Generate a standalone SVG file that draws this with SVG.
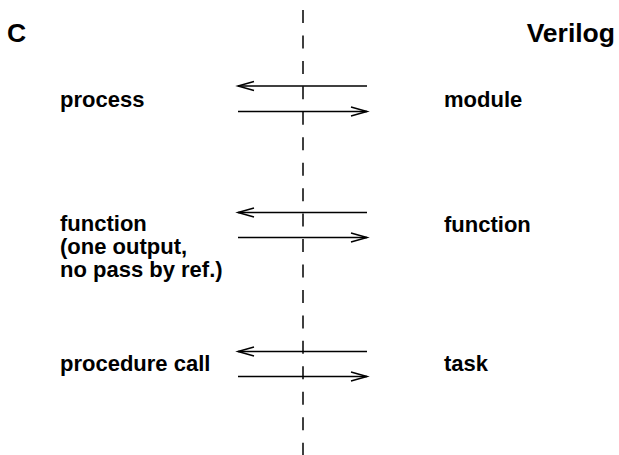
<svg xmlns="http://www.w3.org/2000/svg" width="619" height="455" viewBox="0 0 619 455">
<style>
text{font-family:"Liberation Sans",Arial,sans-serif;font-weight:bold;fill:#000}
.t{font-size:26.5px}
.l{font-size:22px}
.c{stroke:#000;stroke-width:1.5;fill:none}
.d{stroke:#000;stroke-width:1.5;stroke-dasharray:13 12.45}
</style>
<defs>
<marker id="ah" markerUnits="userSpaceOnUse" markerWidth="20" markerHeight="12" refX="17" refY="6" orient="auto">
<path d="M1,1.5 L17,6 L1,10.5" fill="none" stroke="#000" stroke-width="1.5"/>
</marker>
</defs>
<rect width="619" height="455" fill="#fff"/>
<g id="divider"><line class="d" x1="303" y1="10" x2="303" y2="455"/></g>
<g id="titleC"><text class="t" x="7" y="42">C</text></g>
<g id="titleVerilog"><text class="t" x="615" y="42" text-anchor="end">Verilog</text></g>
<g id="process"><text class="l" x="60" y="106.5">process</text></g>
<g id="module"><text class="l" x="444" y="106.5">module</text></g>
<g id="cfunction"><text class="l" x="60" y="231">function</text><text class="l" x="60" y="254">(one output,</text><text class="l" x="60" y="277">no pass by ref.)</text></g>
<g id="vfunction"><text class="l" x="444" y="232">function</text></g>
<g id="procedure"><text class="l" x="60" y="370.5">procedure call</text></g>
<g id="task"><text class="l" x="444" y="370.5">task</text></g>
<g id="connectors">
<line class="c" x1="367" y1="86" x2="238" y2="86" marker-end="url(#ah)"/>
<line class="c" x1="238" y1="111.5" x2="367" y2="111.5" marker-end="url(#ah)"/>
<line class="c" x1="367" y1="212.5" x2="238" y2="212.5" marker-end="url(#ah)"/>
<line class="c" x1="238" y1="237.5" x2="367" y2="237.5" marker-end="url(#ah)"/>
<line class="c" x1="367" y1="351.5" x2="238" y2="351.5" marker-end="url(#ah)"/>
<line class="c" x1="238" y1="376.5" x2="367" y2="376.5" marker-end="url(#ah)"/>
</g>
</svg>
